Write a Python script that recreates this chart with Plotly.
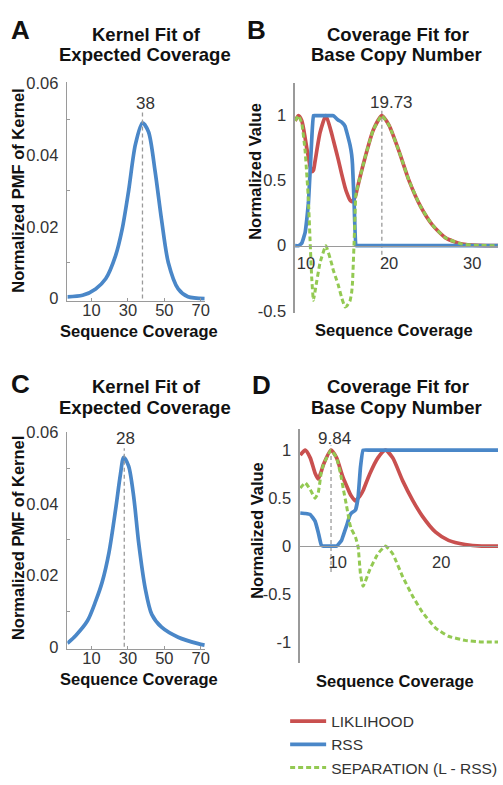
import plotly.graph_objects as go

# ---------------- data ----------------
# Panel A: kernel fit of expected coverage
a_x = [-3.2, 5.1, 12.3, 17.8, 23.2, 26.8, 30.4, 34.1, 38.0, 41.3, 44.9, 48.5, 52.2, 57.6, 63.0, 72.1]
a_y = [0.0005, 0.0009, 0.0027, 0.0055, 0.0119, 0.0192, 0.0301, 0.0429, 0.049, 0.0465, 0.0356, 0.0219, 0.010, 0.0027, 0.0005, 0.0]
a_peak = 38
a_peak_label = "38"

# Panel C: kernel fit of expected coverage
c_x = [-3.2, 1.4, 7.8, 12.3, 15.9, 19.6, 23.2, 25.9, 27.7, 30.4, 33.2, 35.9, 39.5, 43.1, 48.5, 57.6, 68.5, 72.1]
c_y = [0.001, 0.0032, 0.0073, 0.0128, 0.0182, 0.0264, 0.0383, 0.0483, 0.0531, 0.0506, 0.042, 0.0292, 0.0164, 0.0091, 0.0055, 0.0027, 0.0009, 0.0005]
c_peak = 28
c_peak_label = "28"

# Panel B: coverage fit for base copy number
b_x = [9.3, 9.7, 10.1, 10.5, 10.7, 10.9, 11.1, 11.3, 11.5, 11.7, 12.3, 13.0, 13.7, 13.9, 14.3, 14.5,
       14.9, 15.3, 15.5, 15.9, 16.1, 16.2, 16.4, 16.6, 16.7, 17.7, 18.7, 19.73, 20.6, 21.8, 23.0, 24.4,
       25.8, 27.4, 29.4, 31.4, 33.7]
b_lik = [0.96, 1.0, 0.96, 0.83, 0.75, 0.68, 0.61, 0.57, 0.58, 0.65, 0.87, 1.0, 0.86, 0.81, 0.71, 0.66,
         0.55, 0.45, 0.41, 0.35, 0.34, 0.34, 0.36, 0.39, 0.42, 0.675, 0.89, 1.0, 0.925, 0.725, 0.5, 0.3,
         0.16, 0.06, 0.012, 0.002, 0.0]
b_rss = [0.0, 0.0, 0.02, 0.1, 0.2, 0.33, 0.57, 0.82, 1.0, 1.0, 1.0, 1.0, 1.0, 1.0, 0.975, 0.965,
         0.95, 0.92, 0.875, 0.775, 0.7, 0.625, 0.325, 0.0, 0.0, 0.0, 0.0, 0.0, 0.0, 0.0, 0.0, 0.0,
         0.0, 0.0, 0.0, 0.0, 0.0]
b_sep = [0.96, 1.0, 0.94, 0.73, 0.55, 0.35, 0.04, -0.25, -0.42, -0.35, -0.13, 0.0, -0.14, -0.19, -0.265, -0.305,
         -0.40, -0.47, -0.465, -0.425, -0.36, -0.285, 0.035, 0.39, 0.42, 0.675, 0.89, 1.0, 0.925, 0.725, 0.5, 0.3,
         0.16, 0.06, 0.012, 0.002, 0.0]
b_peak = 19.73
b_peak_label = "19.73"

# Panel D: coverage fit for base copy number
d_x = [6.87, 7.35, 7.83, 8.3, 8.6, 8.9, 9.11, 9.84, 10.38, 10.86, 11.02, 11.34, 11.66, 11.82, 12.2, 12.46,
       12.68, 12.94, 13.57, 14.37, 15.1, 15.8, 16.77, 17.72, 18.68, 19.95, 21.2, 22.8, 24.4, 26.0]
d_lik = [0.95, 1.0, 0.92, 0.76, 0.70, 0.78, 0.85, 1.0, 0.92, 0.76, 0.71, 0.63, 0.55, 0.52, 0.47, 0.50,
         0.53, 0.58, 0.75, 0.92, 1.0, 0.92, 0.68, 0.48, 0.31, 0.145, 0.06, 0.017, 0.0, 0.0]
d_rss = [0.345, 0.34, 0.33, 0.26, 0.145, 0.01, 0.0, 0.0, 0.0, 0.06, 0.11, 0.21, 0.32, 0.345, 0.375, 0.51,
         0.815, 1.0, 1.0, 1.0, 1.0, 1.0, 1.0, 1.0, 1.0, 1.0, 1.0, 1.0, 1.0, 1.0]
d_sep = [0.605, 0.66, 0.59, 0.50, 0.555, 0.77, 0.85, 1.0, 0.92, 0.70, 0.60, 0.42, 0.23, 0.175, 0.095, -0.01,
         -0.285, -0.42, -0.25, -0.08, 0.0, -0.08, -0.32, -0.52, -0.69, -0.855, -0.94, -0.983, -1.0, -1.0]
d_peak = 9.84
d_peak_label = "9.84"

series_names = ["LIKLIHOOD", "RSS", "SEPARATION (L - RSS)"]
kernel_yticks = [0, 0.02, 0.04, 0.06]
kernel_yticklabels = ["0", "0.02", "0.04", "0.06"]
kernel_xticks = [10, 30, 50, 70]
b_xticks = [10, 20, 30]
d_xticks = [10, 20]
b_yticks = [-0.5, 0, 0.5, 1]
b_yticklabels = ["-0.5", "0", "0.5", "1"]
d_yticks = [-1, -0.5, 0, 0.5, 1]
d_yticklabels = ["-1", "-0.5", "0", "0.5", "1"]

# ---------------- style ----------------
W, H = 503, 785
FONT = "Liberation Sans, Arial, Helvetica, sans-serif"
RED = "#c9504f"
BLUE = "#4a87c8"
GREEN = "#93c952"
AXIS = "#9a9a9a"
DASH = "#9a9a9a"
TXT = "#333333"
LW = 3.7


def px(x):
    return x / W


def py(y):
    return 1 - y / H


fig = go.Figure()

# kernel curves
fig.add_trace(go.Scatter(x=a_x, y=a_y, mode="lines", line=dict(color=BLUE, width=LW, shape="spline", smoothing=0.8),
                         xaxis="x", yaxis="y", showlegend=False, hoverinfo="skip"))
fig.add_trace(go.Scatter(x=[a_peak, a_peak], y=[0, 0.052], mode="lines", line=dict(color=DASH, width=1.3, dash="4px,3px"),
                         xaxis="x", yaxis="y", showlegend=False, hoverinfo="skip"))
fig.add_trace(go.Scatter(x=c_x, y=c_y, mode="lines", line=dict(color=BLUE, width=LW, shape="spline", smoothing=0.8),
                         xaxis="x3", yaxis="y3", showlegend=False, hoverinfo="skip"))
fig.add_trace(go.Scatter(x=[c_peak, c_peak], y=[0, 0.0556], mode="lines", line=dict(color=DASH, width=1.3, dash="4px,3px"),
                         xaxis="x3", yaxis="y3", showlegend=False, hoverinfo="skip"))

# coverage fit panels
for xs, lik, rss, sep, peak, ylo, ax, ay, leg in [
    (b_x, b_lik, b_rss, b_sep, b_peak, -0.07, "x2", "y2", True),
    (d_x, d_lik, d_rss, d_sep, d_peak, -0.27, "x4", "y4", False),
]:
    fig.add_trace(go.Scatter(x=[peak, peak], y=[ylo, 1.05], mode="lines", line=dict(color=DASH, width=1.3, dash="4px,3px"),
                             xaxis=ax, yaxis=ay, showlegend=False, hoverinfo="skip"))
    fig.add_trace(go.Scatter(x=xs, y=lik, mode="lines", name=series_names[0],
                             line=dict(color=RED, width=LW, shape="spline", smoothing=0.6),
                             xaxis=ax, yaxis=ay, showlegend=leg, legendrank=1))
    fig.add_trace(go.Scatter(x=xs, y=rss, mode="lines", name=series_names[1],
                             line=dict(color=BLUE, width=LW, shape="spline", smoothing=0.3),
                             xaxis=ax, yaxis=ay, showlegend=leg, legendrank=2))
    fig.add_trace(go.Scatter(x=xs, y=sep, mode="lines", name=series_names[2],
                             line=dict(color=GREEN, width=3.0, dash="5px,3px", shape="spline", smoothing=0.4),
                             xaxis=ax, yaxis=ay, showlegend=leg, legendrank=3))

tickfont = dict(family=FONT, size=16.5, color=TXT)

common_y = dict(showgrid=False, zeroline=False, showline=True, linecolor=AXIS, linewidth=1.6,
                ticks="", tickfont=tickfont, ticklabelstandoff=4, fixedrange=True)

kernel_x = dict(range=[-3.26, 72.3], showgrid=False, zeroline=False, showline=True, linecolor=AXIS,
                linewidth=1.2, tickvals=kernel_xticks, ticks="inside", ticklen=3, tickcolor=AXIS,
                tickfont=tickfont, ticklabelstandoff=-6, fixedrange=True)

fig.update_layout(
    width=W, height=H,
    margin=dict(l=0, r=0, t=0, b=0),
    paper_bgcolor="white", plot_bgcolor="white",
    font=dict(family=FONT, color=TXT),
    showlegend=True,
    legend=dict(x=px(288), y=py(712), xanchor="left", yanchor="top", bgcolor="rgba(0,0,0,0)",
                font=dict(family=FONT, size=15.5, color=TXT), itemwidth=36, tracegroupgap=0),
    # Panel A
    xaxis=dict(domain=[px(68), px(207)], anchor="y", **kernel_x),
    yaxis=dict(domain=[py(299.2), py(75.9)], range=[-0.0006, 0.0603], anchor="x", tickvals=kernel_yticks,
               ticktext=kernel_yticklabels,
               minor=dict(tickvals=[0.01, 0.03, 0.05], ticks="inside", ticklen=3, tickcolor=AXIS), **common_y),
    # Panel B
    xaxis2=dict(domain=[px(298), 1.0], range=[9.29, 33.7], anchor="free", position=py(243), showgrid=False,
                zeroline=False, showline=True, linecolor=AXIS, linewidth=1.2, tickvals=b_xticks, ticks="",
                tickfont=tickfont, ticklabelstandoff=2, ticklabelshift=5, fixedrange=True),
    yaxis2=dict(domain=[py(312), py(77)], range=[-0.519, 1.248], anchor="x2", tickvals=b_yticks,
                ticktext=b_yticklabels, **common_y),
    # Panel C
    xaxis3=dict(domain=[px(68), px(207)], anchor="y3", **kernel_x),
    yaxis3=dict(domain=[py(655.2), py(432.9)], range=[-0.0006, 0.0603], anchor="x3", tickvals=kernel_yticks,
                ticktext=kernel_yticklabels,
                minor=dict(tickvals=[0.01, 0.03, 0.05], ticks="inside", ticklen=3, tickcolor=AXIS), **common_y),
    # Panel D
    xaxis4=dict(domain=[px(303), 1.0], range=[6.84, 25.98], anchor="free", position=py(550), showgrid=False,
                zeroline=False, showline=True, linecolor=AXIS, linewidth=1.2, tickvals=d_xticks, ticks="",
                tickfont=tickfont, ticklabelstandoff=1, ticklabelshift=5, fixedrange=True),
    yaxis4=dict(domain=[py(670), py(430)], range=[-1.224, 1.224], anchor="x4", tickvals=d_yticks,
                ticktext=d_yticklabels, **common_y),
)

ann = []


def text(x, y, s, size, bold=False, angle=0):
    ann.append(dict(x=px(x), y=py(y), xref="paper", yref="paper", text=f"<b>{s}</b>" if bold else s,
                    showarrow=False, xanchor="center", yanchor="middle", textangle=angle,
                    font=dict(family=FONT, size=size, color="#111111" if bold else TXT)))


# panel letters
text(21, 22, "A", 26, True)
text(259, 22, "B", 26, True)
text(21, 384, "C", 26, True)
text(264, 385, "D", 26, True)
# titles
text(148, 27, "Kernel Fit of", 18.5, True)
text(146, 48, "Expected Coverage", 18.5, True)
text(402, 27, "Coverage Fit for", 18.5, True)
text(400, 48, "Base Copy Number", 18.5, True)
text(148, 387, "Kernel Fit of", 18.5, True)
text(146, 408, "Expected Coverage", 18.5, True)
text(402, 387, "Coverage Fit for", 18.5, True)
text(400, 408, "Base Copy Number", 18.5, True)
# axis titles
text(140, 330, "Sequence Coverage", 16.5, True)
text(398, 329, "Sequence Coverage", 16.5, True)
text(140, 686, "Sequence Coverage", 16.5, True)
text(399, 688, "Sequence Coverage", 16.5, True)
text(18, 187, "Normalized PMF of Kernel", 16.5, True, -90)
text(258, 167, "Normalized Value", 16.5, True, -90)
text(18, 542, "Normalized PMF of Kernel", 16.5, True, -90)
text(260, 534, "Normalized Value", 16.5, True, -90)

# peak labels (data coordinates)
for xr, yr, xv, yv, lab, shift in [("x", "y", a_peak, 0.0545, a_peak_label, 3),
                                   ("x3", "y3", c_peak, 0.0584, c_peak_label, 1),
                                   ("x2", "y2", b_peak, 1.10, b_peak_label, 10),
                                   ("x4", "y4", d_peak, 1.12, d_peak_label, 3)]:
    ann.append(dict(x=xv, y=yv, xref=xr, yref=yr, text=lab, showarrow=False, xanchor="center",
                    yanchor="middle", xshift=shift, font=dict(family=FONT, size=17, color=TXT)))

fig.update_layout(annotations=ann)

# remove the browser's default page margin so the figure sits at the window corner
fig.write_html("out.html", config={"displayModeBar": False, "staticPlot": True}, post_script=(
    "document.body.style.margin='0';document.body.style.padding='0';"
    "document.documentElement.style.overflow='hidden';document.body.style.overflow='hidden';"
))
